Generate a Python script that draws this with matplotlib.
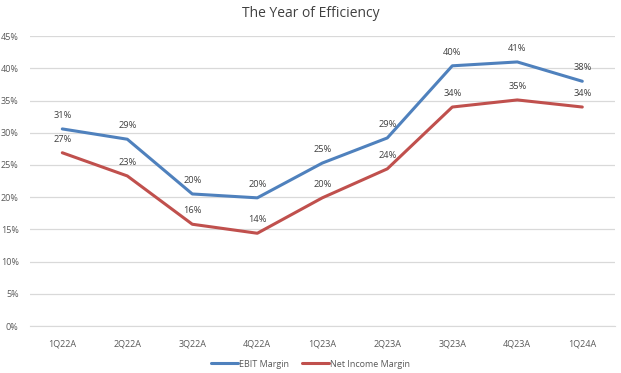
import matplotlib
matplotlib.use("Agg")
import matplotlib.pyplot as plt
from matplotlib.ticker import FuncFormatter

categories = ["1Q22A", "2Q22A", "3Q22A", "4Q22A", "1Q23A", "2Q23A", "3Q23A", "4Q23A", "1Q24A"]
ebit_margin = [30.6, 29.0, 20.5, 19.9, 25.3, 29.2, 40.4, 41.0, 38.0]
net_income_margin = [26.9, 23.3, 15.8, 14.4, 19.9, 24.4, 34.0, 35.1, 34.0]
ebit_labels = ["31%", "29%", "20%", "20%", "25%", "29%", "40%", "41%", "38%"]
net_labels = ["27%", "23%", "16%", "14%", "20%", "24%", "34%", "35%", "34%"]
y_ticks = [0, 5, 10, 15, 20, 25, 30, 35, 40, 45]

BLUE = "#4F81BD"
RED = "#C0504D"
TXT = "#595959"

plt.rcParams["font.family"] = ["Open Sans", "DejaVu Sans"]

fig = plt.figure(figsize=(6.21, 3.73), dpi=100)
ax = fig.add_axes([0.048, 0.126, 0.942, 0.777])
x = list(range(len(categories)))
ax.plot(x, ebit_margin, color=BLUE, lw=2.2, label="EBIT Margin", solid_capstyle="round")
ax.plot(x, net_income_margin, color=RED, lw=2.2, label="Net Income Margin", solid_capstyle="round")

for xi, v, s in zip(x, ebit_margin, ebit_labels):
    ax.annotate(s, (xi, v), xytext=(0, 6.5), textcoords="offset points", ha="center", va="bottom",
                fontsize=6.7, color="#404040")
for xi, v, s in zip(x, net_income_margin, net_labels):
    ax.annotate(s, (xi, v), xytext=(0, 6.5), textcoords="offset points", ha="center", va="bottom",
                fontsize=6.7, color="#404040")

ax.set_xlim(-0.5, len(categories) - 0.5)
ax.set_ylim(0, 45)
ax.set_yticks(y_ticks)
ax.yaxis.set_major_formatter(FuncFormatter(lambda v, p: f"{int(v)}%"))
ax.set_xticks(x)
ax.set_xticklabels(categories)
ax.grid(axis="y", color="#D9D9D9", lw=0.9)
ax.set_axisbelow(True)
for s in ["top", "right", "left"]:
    ax.spines[s].set_visible(False)
ax.spines["bottom"].set_color("#D9D9D9")
ax.tick_params(axis="both", length=0, labelsize=6.5, colors=TXT)
ax.tick_params(axis="x", pad=10)
ax.tick_params(axis="y", pad=8)

fig.suptitle("The Year of Efficiency", y=0.985, fontsize=10, color="#404040")
fig.legend(loc="lower center", bbox_to_anchor=(0.5, -0.01), ncol=2, frameon=False,
           fontsize=6.5, labelcolor=TXT, handlelength=3.0, handletextpad=0.1, columnspacing=1.5)

fig.savefig("out.png", dpi=100)
